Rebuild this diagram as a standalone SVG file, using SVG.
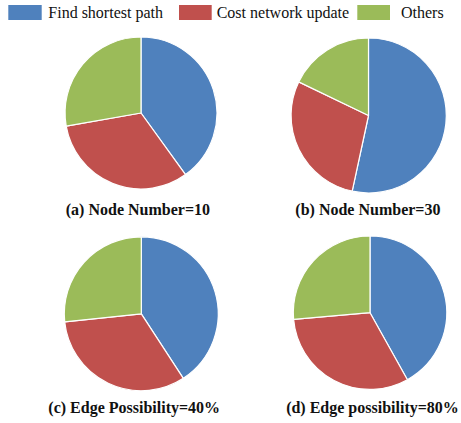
<svg xmlns="http://www.w3.org/2000/svg" width="461" height="423" viewBox="0 0 461 423">
<style>
.b{fill:#4F81BD}.r{fill:#C0504D}.g{fill:#9BBB59}
.s path{stroke:#fff;stroke-width:1.2;stroke-linejoin:round}
.lt{font-family:"Liberation Serif","Times New Roman",serif;font-size:16px;fill:#111}
.cap{font-family:"Liberation Serif","Times New Roman",serif;font-size:16px;font-weight:bold;fill:#111;text-anchor:middle}
</style>
<rect width="461" height="423" fill="#fff"/>
<g id="legend">
<rect class="b" x="8.3" y="5" width="33.4" height="15"/>
<text class="lt" x="48.3" y="17.5">Find shortest path</text>
<rect class="r" x="179" y="5" width="32.7" height="15"/>
<text class="lt" x="216.7" y="17.5">Cost network update</text>
<rect class="g" x="357.3" y="5" width="32.7" height="15"/>
<text class="lt" x="401" y="17.5">Others</text>
</g>
<g id="pie-a" class="s">
<path class="b" d="M141,113 L141,37 A76,76 0 0 1 185.5,174.6 Z"/>
<path class="r" d="M141,113 L185.5,174.6 A76,76 0 0 1 66.2,126.2 Z"/>
<path class="g" d="M141,113 L66.2,126.2 A76,76 0 0 1 141,37 Z"/>
</g>
<g id="pie-b" class="s">
<path class="b" d="M368.5,115.5 L368.5,38 A77.5,77.5 0 1 1 352.2,191.2 Z"/>
<path class="r" d="M368.5,115.5 L352.2,191.2 A77.5,77.5 0 0 1 298.7,81.9 Z"/>
<path class="g" d="M368.5,115.5 L298.7,81.9 A77.5,77.5 0 0 1 368.5,38 Z"/>
</g>
<g id="pie-c" class="s">
<path class="b" d="M141.3,313.8 L141.3,236.8 A77,77 0 0 1 183.3,378.3 Z"/>
<path class="r" d="M141.3,313.8 L183.3,378.3 A77,77 0 0 1 64.7,321.8 Z"/>
<path class="g" d="M141.3,313.8 L64.7,321.8 A77,77 0 0 1 141.3,236.8 Z"/>
</g>
<g id="pie-d" class="s">
<path class="b" d="M370,312.7 L370,236 A76.7,76.7 0 0 1 407.4,379.7 Z"/>
<path class="r" d="M370,312.7 L407.4,379.7 A76.7,76.7 0 0 1 293.6,319.4 Z"/>
<path class="g" d="M370,312.7 L293.6,319.4 A76.7,76.7 0 0 1 370,236 Z"/>
</g>
<g id="captions">
<text class="cap" x="137.9" y="215">(a) Node Number=10</text>
<text class="cap" x="367.9" y="215">(b) Node Number=30</text>
<text class="cap" x="134.2" y="413.3">(c) Edge Possibility=40%</text>
<text class="cap" x="372.5" y="413.3">(d) Edge possibility=80%</text>
</g>
</svg>
